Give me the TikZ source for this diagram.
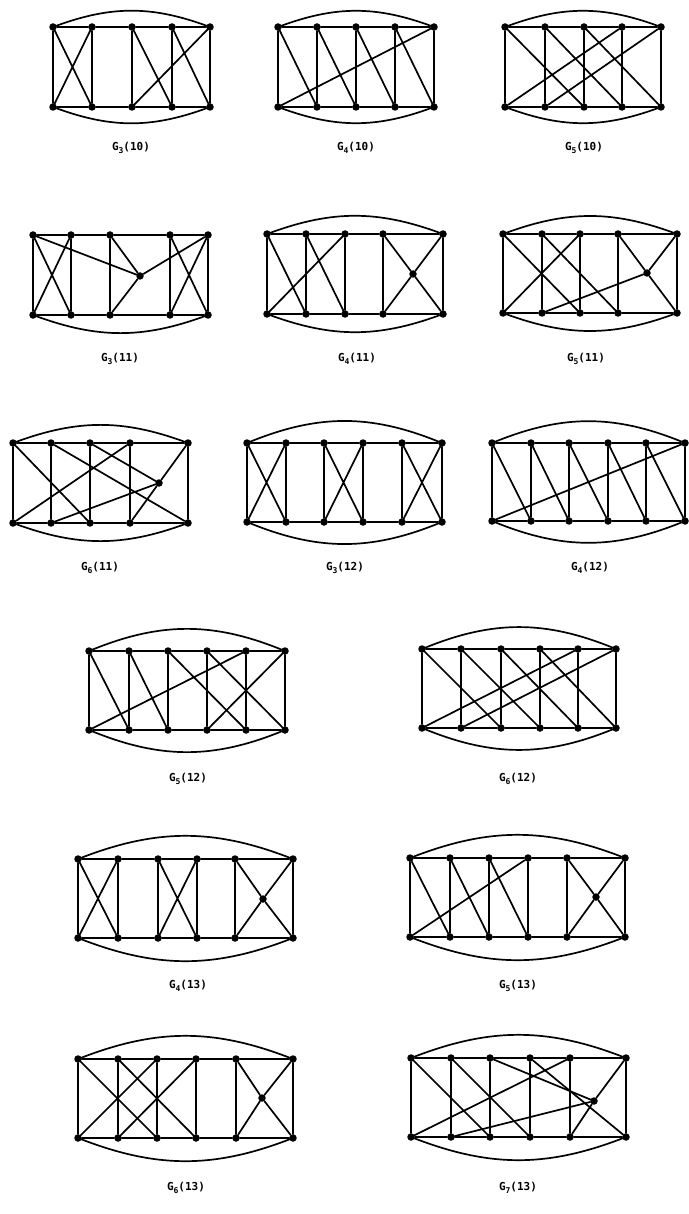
\documentclass[tikz,border=0pt]{standalone}
\usepackage{fontspec}
\setmonofont{DejaVu Sans Mono}
\usetikzlibrary{positioning}
\tikzset{
	vtx/.style   ={circle, fill=black, inner sep=0pt, minimum size=7.5pt},
	edge/.style  ={line width=1.7pt, line cap=round},
	glabel/.style={font=\ttfamily\bfseries\fontsize{11}{13}\selectfont},
}
% G_k(n) label
\newcommand{\gname}[2]{G\lower0.5ex\hbox{\fontsize{8}{9}\selectfont #1}(#2)}
% vertices, rungs and the two rails of a ladder
\newcommand{\ladder}[4]{%
	\foreach \x [count=\i] in {#2}{
		\node[vtx] (#1t\i) at (\x,#3) {};
		\node[vtx] (#1b\i) at (\x,#4) {};
		\draw[edge] (#1t\i) -- (#1b\i);
		\ifnum\i>1
			\pgfmathtruncatemacro\j{\i-1}
			\draw[edge] (#1t\j) -- (#1t\i) (#1b\j) -- (#1b\i);
		\fi
	}%
}

\begin{document}
\begin{tikzpicture}[x=1pt, y=-1pt]
	\useasboundingbox (0,0) rectangle (688,1214);

	% G_3(10)
	\ladder{A}{53,92,132,172,210}{27}{107}
	\draw[edge] (At1) to[bend left=20] (At5) (Ab1) to[bend right=20] (Ab5);
	\draw[edge] (At1) -- (Ab2) (At2) -- (Ab1) (At3) -- (Ab4) (At4) -- (Ab5) (At5) -- (Ab3);
	\node[glabel] (LA) at (131,148) {\gname{3}{10}};

	% G_4(10)
	\ladder{B}{278,317,356,395,434}{27}{107}
	\draw[edge] (Bt1) to[bend left=20] (Bt5) (Bb1) to[bend right=20] (Bb5);
	\draw[edge] (Bt1) -- (Bb2) (Bt2) -- (Bb3) (Bt3) -- (Bb4) (Bt4) -- (Bb5) (Bb1) -- (Bt5);
	\node[glabel] (LB) at (356,148) {\gname{4}{10}};

	% G_5(10)
	\ladder{C}{505,545,584,622,661}{27}{107}
	\draw[edge] (Ct1) to[bend left=20] (Ct5) (Cb1) to[bend right=20] (Cb5);
	\draw[edge] (Ct1) -- (Cb3) (Ct2) -- (Cb4) (Ct3) -- (Cb5) (Ct4) -- (Cb1) (Ct5) -- (Cb2);
	\node[glabel] (LC) at (584,148) {\gname{5}{10}};

	% G_3(11)
	\ladder{D}{33,71,110,170,208}{235}{315}
	\node[vtx] (Dc) at (140,276) {};
	\draw[edge] (Db1) to[bend right=20] (Db5);
	\draw[edge] (Dt1) -- (Db2) (Dt2) -- (Db1) (Dt4) -- (Db5) (Dt5) -- (Db4);
	\draw[edge] (Dt1) -- (Dc) (Dt3) -- (Dc) (Db3) -- (Dc) (Dt5) -- (Dc);
	\node[glabel] (LD) at (120,359) {\gname{3}{11}};

	% G_4(11)
	\ladder{E}{267,306,345,383,443}{234}{314}
	\node[vtx] (Ec) at (413,274) {};
	\draw[edge] (Et1) to[bend left=20] (Et5) (Eb1) to[bend right=20] (Eb5);
	\draw[edge] (Et1) -- (Eb2) (Et2) -- (Eb3) (Et3) -- (Eb1);
	\draw[edge] (Et4) -- (Ec) -- (Eb5) (Et5) -- (Ec) -- (Eb4);
	\node[glabel] (LE) at (357,359) {\gname{4}{11}};

	% G_5(11)
	\ladder{F}{503,542,580,618,677}{234}{313}
	\node[vtx] (Fc) at (647,273) {};
	\draw[edge] (Ft1) to[bend left=20] (Ft5) (Fb1) to[bend right=20] (Fb5);
	\draw[edge] (Ft1) -- (Fb3) (Ft2) -- (Fb4) (Ft3) -- (Fb1);
	\draw[edge] (Fb2) -- (Fc) (Ft4) -- (Fc) (Ft5) -- (Fc) -- (Fb5);
	\node[glabel] (LF) at (586,359) {\gname{5}{11}};

	% G_6(11)
	\ladder{G}{13,51,90,130,188}{443}{523}
	\node[vtx] (Gc) at (159,483) {};
	\draw[edge] (Gt1) to[bend left=20] (Gt5) (Gb1) to[bend right=20] (Gb5);
	\draw[edge] (Gt1) -- (Gb3) (Gt2) -- (Gb5) (Gt4) -- (Gb1);
	\draw[edge] (Gt3) -- (Gc) (Gb2) -- (Gc) (Gt5) -- (Gc) -- (Gb4);
	\node[glabel] (LG) at (100,568) {\gname{6}{11}};

	% G_3(12)
	\ladder{H}{247,286,324,363,402,442}{443}{522}
	\draw[edge] (Ht1) to[bend left=22] (Ht6) (Hb1) to[bend right=22] (Hb6);
	\draw[edge] (Ht1) -- (Hb2) (Ht2) -- (Hb1) (Ht3) -- (Hb4) (Ht4) -- (Hb3) (Ht5) -- (Hb6) (Ht6) -- (Hb5);
	\node[glabel] (LH) at (345,568) {\gname{3}{12}};

	% G_4(12)
	\ladder{I}{492,531,569,608,646,685}{443}{521}
	\draw[edge] (It1) to[bend left=22] (It6) (Ib1) to[bend right=22] (Ib6);
	\draw[edge] (It1) -- (Ib2) (It2) -- (Ib3) (It3) -- (Ib4) (It4) -- (Ib5) (It5) -- (Ib6) (Ib1) -- (It6);
	\node[glabel] (LI) at (590,568) {\gname{4}{12}};

	% G_5(12)
	\ladder{J}{89,129,168,207,246,285}{651}{730}
	\draw[edge] (Jt1) to[bend left=22] (Jt6) (Jb1) to[bend right=22] (Jb6);
	\draw[edge] (Jt1) -- (Jb2) (Jt2) -- (Jb3) (Jt3) -- (Jb5) (Jt4) -- (Jb6) (Jt5) -- (Jb1) (Jt6) -- (Jb4);
	\node[glabel] (LJ) at (188,779) {\gname{5}{12}};

	% G_6(12)
	\ladder{K}{422,461,501,540,578,616}{649}{728}
	\draw[edge] (Kt1) to[bend left=22] (Kt6) (Kb1) to[bend right=22] (Kb6);
	\draw[edge] (Kt1) -- (Kb3) (Kt2) -- (Kb4) (Kt3) -- (Kb5) (Kt4) -- (Kb6) (Kt5) -- (Kb1) (Kt6) -- (Kb2);
	\node[glabel] (LK) at (518,779) {\gname{6}{12}};

	% G_4(13)
	\ladder{L}{78,118,158,197,235,293}{859}{938}
	\node[vtx] (Lc) at (263,899) {};
	\draw[edge] (Lt1) to[bend left=21] (Lt6) (Lb1) to[bend right=21] (Lb6);
	\draw[edge] (Lt1) -- (Lb2) (Lt2) -- (Lb1) (Lt3) -- (Lb4) (Lt4) -- (Lb3);
	\draw[edge] (Lt5) -- (Lc) -- (Lb6) (Lt6) -- (Lc) -- (Lb5);
	\node[glabel] (LL) at (188,986) {\gname{4}{13}};

	% G_5(13)
	\ladder{M}{410,450,489,528,567,625}{858}{937}
	\node[vtx] (Mc) at (596,897) {};
	\draw[edge] (Mt1) to[bend left=21] (Mt6) (Mb1) to[bend right=21] (Mb6);
	\draw[edge] (Mt1) -- (Mb2) (Mt2) -- (Mb3) (Mt3) -- (Mb4) (Mb1) -- (Mt4);
	\draw[edge] (Mt5) -- (Mc) -- (Mb6) (Mt6) -- (Mc) -- (Mb5);
	\node[glabel] (LM) at (518,986) {\gname{5}{13}};

	% G_6(13)
	\ladder{N}{78,118,157,196,236,293}{1059}{1138}
	\node[vtx] (Nc) at (262,1098) {};
	\draw[edge] (Nt1) to[bend left=21] (Nt6) (Nb1) to[bend right=21] (Nb6);
	\draw[edge] (Nt1) -- (Nb3) (Nt2) -- (Nb4) (Nt3) -- (Nb1) (Nt4) -- (Nb2);
	\draw[edge] (Nt5) -- (Nc) -- (Nb6) (Nt6) -- (Nc) -- (Nb5);
	\node[glabel] (LN) at (186,1188) {\gname{6}{13}};

	% G_7(13)
	\ladder{O}{411,451,490,530,570,626}{1058}{1137}
	\node[vtx] (Oc) at (594,1101) {};
	\draw[edge] (Ot1) to[bend left=21] (Ot6) (Ob1) to[bend right=21] (Ob6);
	\draw[edge] (Ot1) -- (Ob3) (Ot2) -- (Ob4) (Ob1) -- (Ot5) (Ot4) -- (Ob6);
	\draw[edge] (Ot3) -- (Oc) (Ob2) -- (Oc) (Ot6) -- (Oc) -- (Ob5);
	\node[glabel] (LO) at (518,1188) {\gname{7}{13}};
\end{tikzpicture}
\end{document}
